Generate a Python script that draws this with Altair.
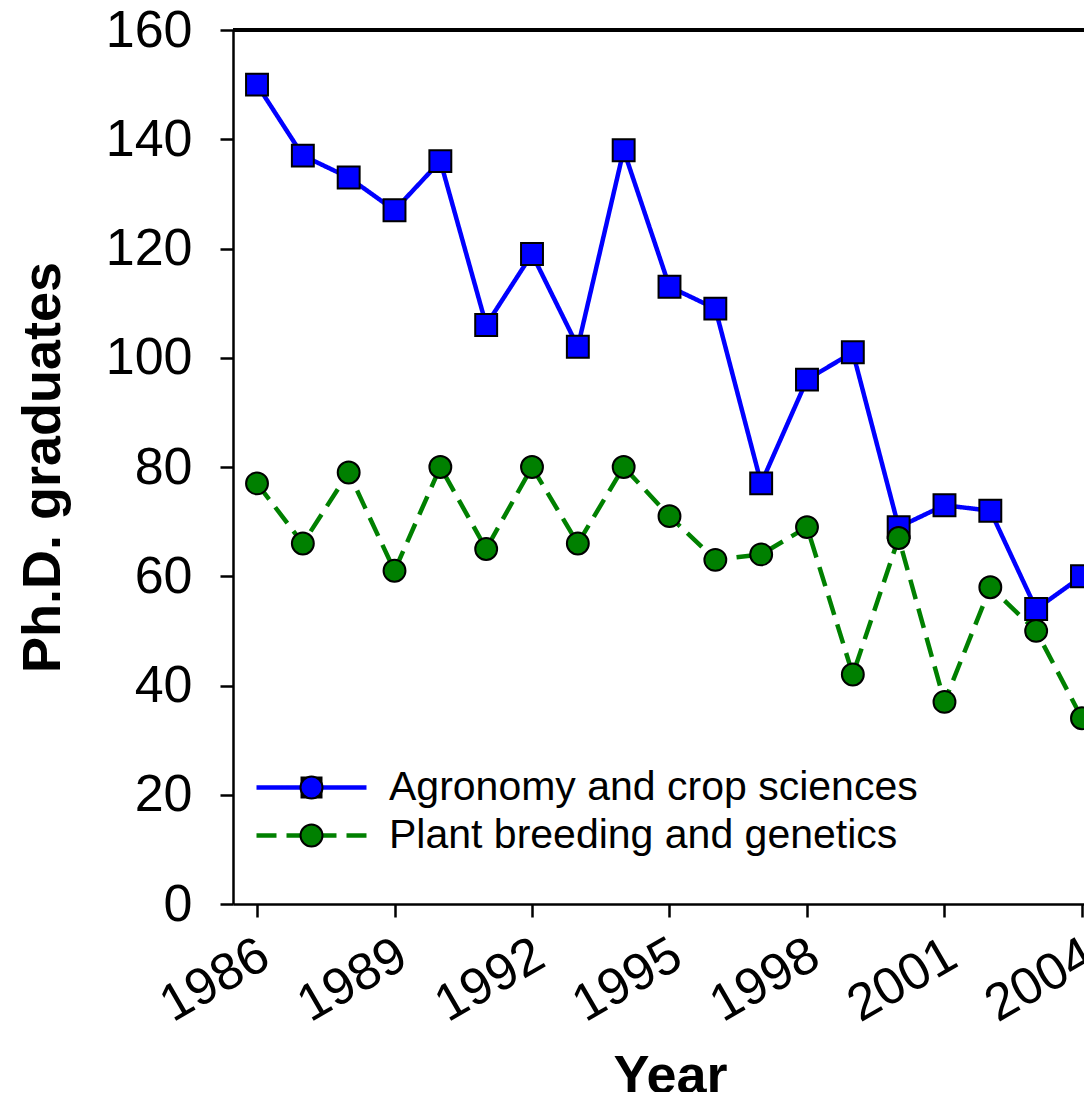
import altair as alt
import pandas as pd

years = list(range(1986, 2005))
agronomy = [150, 137, 133, 127, 136, 106, 119, 102, 138, 113, 109, 77, 96, 101, 69, 73, 72, 54, 60]
breeding = [77, 66, 79, 61, 80, 65, 80, 66, 80, 71, 63, 64, 69, 42, 67, 37, 58, 50, 34]
series_names = ["Agronomy and crop sciences", "Plant breeding and genetics"]
series_colors = ["#0000FF", "#008000"]
x_ticks = [1986, 1989, 1992, 1995, 1998, 2001, 2004]
y_ticks = [0, 20, 40, 60, 80, 100, 120, 140, 160]

df = pd.DataFrame({
    "Year": years * 2,
    "Value": agronomy + breeding,
    "Series": [series_names[0]] * len(years) + [series_names[1]] * len(years),
})

FONT = "Liberation Sans"

x = alt.X("Year:Q",
          scale=alt.Scale(domain=[1985.476, 2004.044], nice=False, zero=False),
          axis=alt.Axis(values=x_ticks, format="d", labelAngle=330, labelAlign="right",
                        labelBaseline="top", labelPadding=12, labelOffset=-5, labelFontSize=52,
                        labelOverlap=False, labelFlush=False, labelBound=False,
                        title="Year", titleFontSize=54, titleFontWeight="bold",
                        titleX=437, titleY=188, titleBaseline="alphabetic", titleAlign="center"))
y = alt.Y("Value:Q",
          scale=alt.Scale(domain=[0, 160], nice=False),
          axis=alt.Axis(values=y_ticks, labelPadding=28, labelFontSize=52,
                        title="Ph.D. graduates", titleFontSize=54, titleFontWeight="bold",
                        titleAngle=270, titleX=-190, titleY=437, titleBaseline="middle",
                        titleAlign="center"))

dash_expr = "datum.index == 1 ? [20, 10] : [1, 0]"

line_legend = alt.Legend(title=None, orient="none", legendX=58, legendY=737,
                         symbolType="M-5,0H5", symbolSize=484, symbolStrokeWidth=4.5,
                         symbolDash=alt.ExprRef(dash_expr),
                         labelOffset=57, labelFontSize=41, labelFont=FONT, labelColor="black",
                         labelLimit=1000, rowPadding=6, padding=0)
point_legend = alt.Legend(title=None, orient="none", legendX=58, legendY=737,
                          symbolSize=484, symbolStrokeColor="black", symbolStrokeWidth=2,
                          labelOffset=57, labelFontSize=41, labelFont=FONT, labelOpacity=0,
                          labelLimit=1000, rowPadding=6, padding=0)

lines = alt.Chart(df).mark_line(strokeWidth=4.5).encode(
    x=x, y=y,
    color=alt.Color("Series:N", scale=alt.Scale(domain=series_names, range=series_colors),
                    legend=line_legend),
    strokeDash=alt.StrokeDash("Series:N",
                              scale=alt.Scale(domain=series_names, range=[[1, 0], [20, 10]]),
                              legend=line_legend),
)

points = alt.Chart(df).mark_point(filled=True, stroke="black", strokeWidth=2, size=480, opacity=1).encode(
    x=x, y=y,
    fill=alt.Fill("Series:N", scale=alt.Scale(domain=series_names, range=series_colors),
                  legend=point_legend),
    shape=alt.Shape("Series:N", scale=alt.Scale(domain=series_names, range=["square", "circle"]),
                    legend=point_legend),
)

top_frame = alt.Chart(df).mark_rule(color="black", strokeWidth=3).encode(y=alt.datum(160))

chart = alt.layer(lines, points, top_frame).resolve_legend(
    color="independent", fill="independent"
).properties(
    width=851, height=874,
    autosize=alt.AutoSizeParams(type="none"),
    padding={"left": 225, "top": 22, "right": 0, "bottom": 188},
).configure_view(stroke="transparent").configure_axis(
    grid=False, domainColor="black", domainWidth=2.5, tickColor="black", tickWidth=2.5, tickSize=13,
    labelFont=FONT, labelColor="black", titleFont=FONT, titleColor="black",
).configure_legend(labelFont=FONT)

chart.save("out.html", embed_options={"renderer": "svg", "actions": False})
